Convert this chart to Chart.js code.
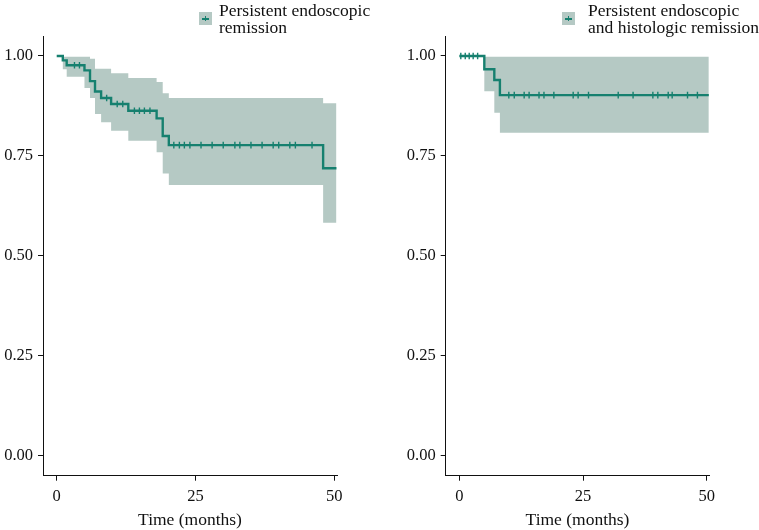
<!DOCTYPE html>
<html>
<head>
<meta charset="utf-8">
<script src="https://cdn.jsdelivr.net/npm/chart.js@4"></script>
<style>
  body { margin: 0; background: #fff; }
  #wrap { position: relative; width: 759px; height: 530px; overflow: hidden; font-family: "Liberation Serif", serif; }
  canvas { position: absolute; top: 0; }
  .legend { position: absolute; top: 2px; font-size: 17.5px; line-height: 17px; color: #111; white-space: nowrap; }
  .swatch { position: absolute; top: 12px; width: 13px; height: 13px; background: #b5c9c4; }
  .swatch::before { content: ''; position: absolute; left: 3px; top: 5.5px; width: 7px; height: 2px; background: #16806f; }
  .swatch::after { content: ''; position: absolute; left: 6px; top: 4px; width: 1.2px; height: 5px; background: #16806f; }
</style>
</head>
<body>
<div id="wrap">
  <canvas id="left-chart" width="380" height="530" style="left:0"></canvas>
  <canvas id="right-chart" width="379" height="530" style="left:380px"></canvas>
  <div class="swatch" style="left:199px"></div>
  <div class="legend" style="left:219px">Persistent endoscopic<br>remission</div>
  <div class="swatch" style="left:562px"></div>
  <div class="legend" style="left:588px">Persistent endoscopic<br>and histologic remission</div>
</div>
<script>
const xTicks = [0, 25, 50];
const yTicks = [0, 0.25, 0.5, 0.75, 1];

// left panel: endoscopic remission
const leftTimes = [0, 1.1, 1.8, 5.0, 6.0, 6.9, 8.0, 9.8, 12.9, 18.0, 19.1, 20.2, 48.0, 50.4];
const leftSurv  = [1, 0.989, 0.977, 0.964, 0.937, 0.911, 0.895, 0.880, 0.863, 0.844, 0.800, 0.777, 0.719, 0.719];
const leftUpper = [1, 0.998, 0.998, 0.998, 0.993, 0.968, 0.968, 0.957, 0.945, 0.935, 0.907, 0.895, 0.882, 0.882];
const leftLower = [1, 0.967, 0.948, 0.920, 0.895, 0.855, 0.834, 0.813, 0.788, 0.759, 0.706, 0.677, 0.583, 0.583];
const leftCensor = [3.2, 4.1, 9.0, 10.9, 11.9, 14.0, 14.9, 15.8, 16.8, 21.1, 22.1, 23.0, 24.0, 26.0, 28.0,
  30.0, 32.1, 33.0, 35.0, 37.0, 39.0, 40.0, 42.0, 43.0, 46.0];

// right panel: endoscopic and histologic remission
const rightTimes = [0, 5.05, 7.07, 8.2, 50.4];
const rightSurv  = [1, 0.967, 0.940, 0.902, 0.902];
const rightUpper = [1, 0.998, 0.998, 0.998, 0.998];
const rightLower = [1, 0.912, 0.858, 0.808, 0.808];
const rightCensor = [0.3, 1.2, 2.0, 2.8, 3.7, 10.0, 11.1, 13.1, 14.1, 16.1, 17.1, 19.1, 23.0, 24.0, 26.1,
  32.1, 35.1, 39.1, 40.1, 42.2, 43.0, 46.1, 48.1];

const lineColor = '#16806f';
const bandColor = '#b5c9c4';
const axisColor = '#111';
const textColor = '#111';
const tickFont = { family: 'Liberation Serif', size: 16.5 };
const titleFont = { family: 'Liberation Serif', size: 17.5 };

function survAt(times, surv, t) {
  let s = surv[0];
  for (let i = 0; i < times.length; i++) {
    if (times[i] <= t) s = surv[i];
  }
  return s;
}

function makeChart(canvasId, opts) {
  const { times, surv, upper, lower, censor, xMin, xMax, yAxisWidth, padRight } = opts;
  const pts = vals => times.map((t, i) => ({ x: t, y: vals[i] }));

  return new Chart(document.getElementById(canvasId), {
    type: 'line',
    data: {
      datasets: [
        { data: pts(upper), stepped: true, borderWidth: 0, borderColor: 'rgba(0,0,0,0)', pointRadius: 0,
          backgroundColor: bandColor, fill: '+1', order: 3 },
        { data: pts(lower), stepped: true, borderWidth: 0, borderColor: 'rgba(0,0,0,0)', pointRadius: 0,
          fill: false, order: 4 },
        { data: pts(surv), stepped: true, borderColor: lineColor, borderWidth: 2.4, pointRadius: 0,
          fill: false, order: 2 },
        { data: censor.map(t => ({ x: t, y: survAt(times, surv, t) })), showLine: false,
          pointStyle: 'line', rotation: 90, pointRadius: 3.3, borderColor: lineColor, borderWidth: 1.4, order: 1 }
      ]
    },
    options: {
      responsive: false,
      animation: false,
      events: [],
      layout: { padding: { top: 36, right: padRight, left: 0, bottom: 0 } },
      plugins: { legend: { display: false }, tooltip: { enabled: false } },
      scales: {
        x: {
          type: 'linear', min: xMin, max: xMax,
          afterBuildTicks: s => { s.ticks = xTicks.map(v => ({ value: v })); },
          afterFit: s => { s.height = 54.3; },
          grid: { drawOnChartArea: false, drawTicks: true, tickLength: 5, color: axisColor },
          border: { color: axisColor, width: 1 },
          ticks: { color: textColor, padding: 6, font: tickFont, maxRotation: 0 },
          title: { display: true, text: 'Time (months)', color: textColor, font: titleFont,
            padding: { top: 0, bottom: -1 } }
        },
        y: {
          min: -0.05, max: 1.05,
          afterBuildTicks: s => { s.ticks = yTicks.map(v => ({ value: v })); },
          afterFit: s => { s.width = yAxisWidth; },
          grid: { drawOnChartArea: false, drawTicks: true, tickLength: 5, color: axisColor },
          border: { color: axisColor, width: 1 },
          ticks: { color: textColor, padding: 5, font: tickFont, callback: v => v.toFixed(2) }
        }
      }
    }
  });
}

document.addEventListener('DOMContentLoaded', () => {
  makeChart('left-chart', {
    times: leftTimes, surv: leftSurv, upper: leftUpper, lower: leftLower, censor: leftCensor,
    xMin: -2.47, xMax: 50.5, yAxisWidth: 43, padRight: 43
  });
  makeChart('right-chart', {
    times: rightTimes, surv: rightSurv, upper: rightUpper, lower: rightLower, censor: rightCensor,
    xMin: -2.75, xMax: 50.5, yAxisWidth: 65.7, padRight: 49.7
  });
});
</script>
</body>
</html>
